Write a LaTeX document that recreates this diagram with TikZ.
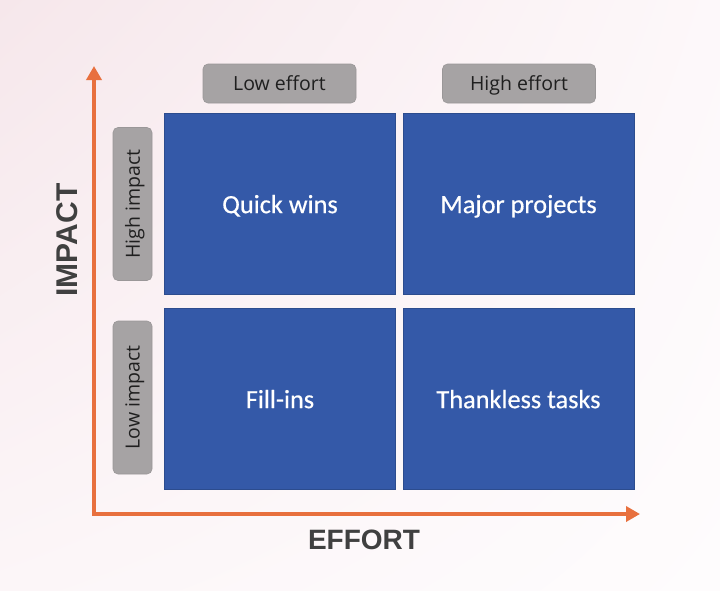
\documentclass[tikz,border=0pt]{standalone}
\usepackage{fontspec}
\setmainfont{Carlito}
\newfontfamily\quadfont[FakeBold=0.5]{Carlito}
\newfontfamily\tagfont{Open Sans}
\newfontfamily\axisfont{Liberation Sans}
\usetikzlibrary{arrows.meta,shadings}
\definecolor{bgA}{HTML}{F6E7EB}
\definecolor{bgB}{HTML}{FDF8FA}
\definecolor{bgC}{HTML}{FCF6F8}
\definecolor{bgD}{HTML}{FEFCFD}
\definecolor{quadblue}{HTML}{3459A8}
\definecolor{quadedge}{HTML}{2C4C8E}
\definecolor{tagfill}{HTML}{A6A3A4}
\definecolor{tagedge}{HTML}{9A9798}
\definecolor{axisorange}{HTML}{E8703E}
\definecolor{axistext}{HTML}{404040}
\tikzset{
  quad/.style={draw=quadedge, line width=0.8pt, fill=quadblue, text=white,
    minimum width=231pt, minimum height=181pt, inner sep=0pt, text depth=0pt,
    font=\quadfont\fontsize{26.3}{30}\selectfont},
  tag/.style={draw=tagedge, line width=0.6pt, fill=tagfill, rounded corners=5pt,
    text=black!88, inner sep=0pt, minimum width=153pt, minimum height=39pt,
    text depth=0pt, font=\tagfont\fontsize{19.5}{22}\selectfont},
  axis/.style={draw=axisorange, line width=3.5pt,
    -{Triangle[length=14pt,width=15pt]}},
  axislabel/.style={text=axistext, font=\axisfont\bfseries\fontsize{28}{32}\selectfont}
}
\begin{document}
\begin{tikzpicture}[x=1pt,y=-1pt]
  \useasboundingbox (0,0) rectangle (720,590);
  \shade[upper left=bgA, upper right=bgB, lower left=bgC, lower right=bgD]
    (0,0) rectangle (720,590);

  % four quadrants
  \node[quad] (qw) at (280,204) {Quick wins};
  \node[quad] (mp) at (518.5,204) {Major projects};
  \node[quad] (fi) at (280,399) {Fill-ins};
  \node[quad] (tt) at (518.5,399) {Thankless tasks};

  % column and row tags
  \node[tag] (le) at (279.5,83.5) {Low effort};
  \node[tag] (he) at (519,83.5) {High effort};
  \node[tag, rotate=90] (hi) at (132.5,204) {High impact};
  \node[tag, rotate=90] (li) at (132.5,397.5) {Low impact};

  % axes
  \coordinate (origin) at (94,514);
  \coordinate (ytip) at (94,66);
  \coordinate (xtip) at (640,514);
  \draw[axis] ([xshift=-1.75pt]origin) -- (xtip);
  \draw[axis] ([yshift=1.75pt]origin) -- (ytip);

  \node[axislabel] (xl) at (364,540) {EFFORT};
  \node[axislabel, font=\axisfont\bfseries\fontsize{30}{34}\selectfont, rotate=90] (yl) at (67.5,240) {IMPACT};
\end{tikzpicture}
\end{document}
